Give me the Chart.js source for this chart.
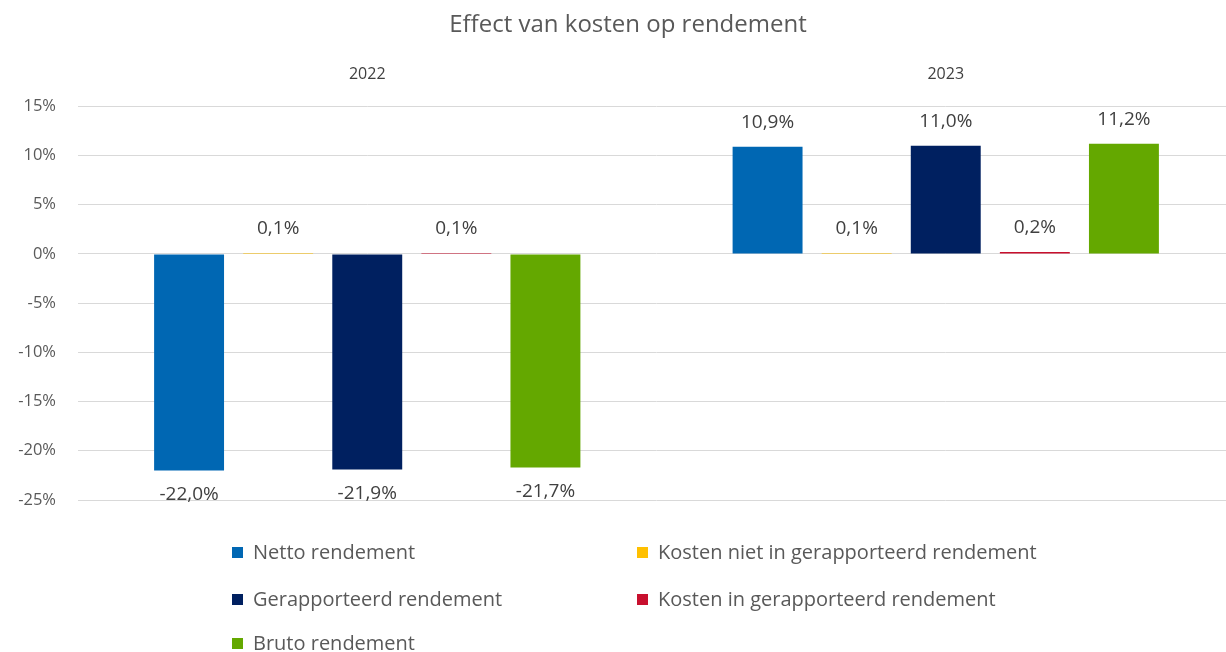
<!DOCTYPE html>
<html>
<head>
<meta charset="utf-8">
<script src="https://cdn.jsdelivr.net/npm/chart.js@4/dist/chart.umd.min.js"></script>
<style>
  html, body { margin: 0; padding: 0; background: #ffffff; overflow: hidden; }
  #wrap { position: relative; width: 1236px; height: 652px; }
</style>
</head>
<body>
<div id="wrap"><canvas id="c" width="1236" height="652"></canvas></div>
<script>
const titleText = 'Effect van kosten op rendement';
const categories = ['2022', '2023'];
const seriesNames = [
  'Netto rendement',
  'Kosten niet in gerapporteerd rendement',
  'Gerapporteerd rendement',
  'Kosten in gerapporteerd rendement',
  'Bruto rendement'
];
const nettoRendement = [-22.0, 10.9];
const kostenNietIn = [0.1, 0.1];
const gerapporteerdRendement = [-21.9, 11.0];
const kostenIn = [0.1, 0.2];
const brutoRendement = [-21.7, 11.2];
const seriesColors = ['#0067b3', '#ffc000', '#002060', '#c8102e', '#64a800'];
const yTicks = { min: -25, max: 15, step: 5 };

const allValues = [nettoRendement, kostenNietIn, gerapporteerdRendement, kostenIn, brutoRendement];
const fmt = v => v.toFixed(1).replace('.', ',') + '%';
const FONT = "'Open Sans', sans-serif";

const chartTitle = {
  id: 'chartTitle',
  afterDraw(chart) {
    const ctx = chart.ctx;
    ctx.save();
    ctx.font = '24px ' + FONT;
    ctx.fillStyle = '#595959';
    ctx.textAlign = 'center';
    ctx.textBaseline = 'middle';
    ctx.fillText(titleText, 628, 25);
    ctx.restore();
  }
};

const dataLabels = {
  id: 'dataLabels',
  afterDatasetsDraw(chart) {
    const ctx = chart.ctx;
    ctx.save();
    ctx.font = '19px ' + FONT;
    ctx.fillStyle = '#404040';
    ctx.textAlign = 'center';
    ctx.textBaseline = 'middle';
    chart.data.datasets.forEach((ds, i) => {
      const meta = chart.getDatasetMeta(i);
      meta.data.forEach((bar, j) => {
        const v = ds.data[j];
        const y = v >= 0 ? bar.y - 24 : bar.y + 24;
        ctx.fillText(fmt(v), bar.x, y);
      });
    });
    ctx.restore();
  }
};

const gridLegend = {
  id: 'gridLegend',
  afterDraw(chart) {
    const ctx = chart.ctx;
    ctx.save();
    ctx.font = '20px ' + FONT;
    ctx.textBaseline = 'middle';
    ctx.textAlign = 'left';
    const cols = [232, 637];
    const rows = [553, 600, 644];
    chart.data.datasets.forEach((ds, i) => {
      const x = cols[i % 2];
      const y = rows[Math.floor(i / 2)];
      ctx.fillStyle = ds.backgroundColor;
      ctx.fillRect(x, y - 6, 11, 11);
      ctx.fillStyle = '#595959';
      ctx.fillText(ds.label, x + 21, y);
    });
    ctx.restore();
  }
};

new Chart(document.getElementById('c'), {
  type: 'bar',
  data: {
    labels: categories,
    datasets: seriesNames.map((name, i) => ({
      label: name,
      data: allValues[i],
      backgroundColor: seriesColors[i],
      borderWidth: 0,
      categoryPercentage: 0.77,
      barPercentage: 0.785
    }))
  },
  options: {
    responsive: false,
    animation: false,
    layout: { padding: { left: 0, right: 1, top: 46.3, bottom: 152 } },
    plugins: {
      legend: { display: false },
      tooltip: { enabled: false },
      title: { display: false }
    },
    scales: {
      x: {
        position: 'top',
        grid: { display: false, drawTicks: false },
        border: { display: false },
        ticks: { color: '#404040', font: { family: FONT, size: 16 }, padding: 22 },
        afterFit(scale) { scale.height = 60; }
      },
      y: {
        min: yTicks.min,
        max: yTicks.max,
        grid: { color: '#d9d9d9', lineWidth: 1, drawTicks: false },
        border: { display: false },
        ticks: {
          stepSize: yTicks.step,
          color: '#595959',
          font: { family: FONT, size: 16.5 },
          padding: 22,
          callback: v => v + '%'
        },
        afterFit(scale) { scale.width = 78; }
      }
    }
  },
  plugins: [chartTitle, dataLabels, gridLegend]
});
</script>
</body>
</html>
